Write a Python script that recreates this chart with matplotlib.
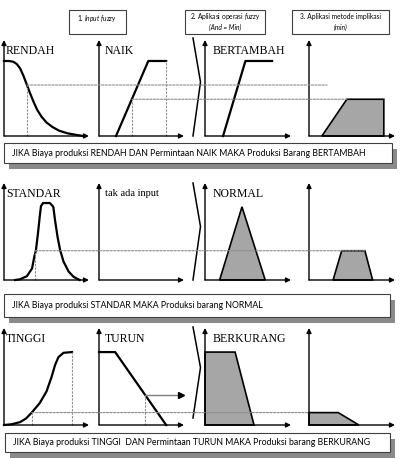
import matplotlib
matplotlib.use("Agg")
import matplotlib.pyplot as plt
from matplotlib.patches import Rectangle, ConnectionPatch

# ---- data ----------------------------------------------------------------
# x is in % of each panel's horizontal axis, mu is the membership degree (0..1)
rendah_x = [0, 6, 11, 15, 19, 23, 27, 31, 35, 39, 44, 50, 57, 65, 75, 85, 93]
rendah_mu = [1.0, 1.0, 0.99, 0.96, 0.9, 0.8, 0.68, 0.56, 0.45, 0.35, 0.26, 0.18,
             0.12, 0.07, 0.035, 0.015, 0.0]
naik_x = [20, 58, 79]
naik_mu = [0, 1, 1]
bertambah_x = [21, 47, 78]
bertambah_mu = [0, 1, 1]
out1_x = [15, 44, 87, 87]
out1_mu = [0, 0.49, 0.49, 0]

standar_x = [13, 19, 27, 33, 35.6, 37.6, 40, 42, 43.5, 46, 54, 58, 60, 63, 66,
             70, 76, 82, 89]
standar_mu = [0, 0.01, 0.05, 0.15, 0.30, 0.39, 0.61, 0.82, 0.96, 1.0, 1.0, 0.95,
              0.78, 0.56, 0.39, 0.24, 0.11, 0.04, 0]
normal_x = [17, 43, 70]
normal_mu = [0, 0.95, 0]
out2_x = [28, 38, 65, 74]
out2_mu = [0, 0.38, 0.38, 0]

tinggi_x = [0, 9, 19, 26, 32.6, 42, 50, 56, 60, 64, 70, 80]
tinggi_mu = [0, 0.01, 0.04, 0.09, 0.17, 0.30, 0.46, 0.66, 0.82, 0.93, 0.99, 1.0]
turun_x = [0, 19, 79]
turun_mu = [1, 1, 0]
berkurang_x = [0, 35, 57, 0]
berkurang_mu = [1, 1, 0, 0]
out3_x = [0, 0, 34, 58]
out3_mu = [0, 0.17, 0.17, 0]

# crisp inputs (x) and the degree they fire (mu)
biaya_in = [27, 37, 32.6]
biaya_mu = [0.68, 0.38, 0.17]
permintaan_in = [38.8, None, 54]
permintaan_mu = [0.49, None, 0.41]
# where the guide lines stop inside the last panel
guide_end_biaya = [21, 65, 0]
guide_end_permintaan = [44, None, None]

labels_input1 = ["RENDAH", "STANDAR", "TINGGI"]
labels_input2 = ["NAIK", "tak ada input", "TURUN"]
labels_output = ["BERTAMBAH", "NORMAL", "BERKURANG"]
rules = [
    "JIKA Biaya produksi RENDAH DAN Permintaan NAIK MAKA Produksi Barang BERTAMBAH",
    "JIKA Biaya produksi STANDAR MAKA Produksi barang NORMAL",
    "JIKA Biaya produksi TINGGI  DAN Permintaan TURUN MAKA Produksi barang BERKURANG",
]

# ---- layout (pixels) ------------------------------------------------------
W, H, DPI = 403, 459, 100
col_left = [4, 99, 205, 309]
col_right = [89, 184, 291, 395]
row_top = [40, 183, 328]
row_base = [136, 280, 425]
row_ymax = [1.28, 1.26, 1.33]
rule_boxes = [(4, 143, 392, 163), (4, 294, 390, 317), (5, 433, 390, 452)]
bracket_top = [38, 183, 327]
bracket_bot = [136, 280, 418]

GRAY = "#a6a6a6"
GUIDE = dict(color="#8c8c8c", lw=0.8, ls=(0, (2, 1.2)))
SERIF = "Liberation Serif"
SANS = "Lato"

plt.rcParams["mathtext.fontset"] = "custom"
plt.rcParams["mathtext.rm"] = SANS
plt.rcParams["mathtext.it"] = SANS + ":italic"

fig = plt.figure(figsize=(W / DPI, H / DPI), dpi=DPI)
ov = fig.add_axes([0, 0, 1, 1])
ov.set_xlim(0, W)
ov.set_ylim(H, 0)
ov.axis("off")
ov.patch.set_alpha(0)


def make_panel(col, row):
    x0, x1 = col_left[col], col_right[col]
    top, base = row_top[row], row_base[row]
    ax = fig.add_axes([x0 / W, 1 - base / H, (x1 - x0) / W, (base - top) / H])
    ax.set_xlim(0, 100)
    ax.set_ylim(0, row_ymax[row])
    ax.axis("off")
    ax.patch.set_alpha(0)
    arrow = dict(arrowstyle="-|>", color="black", lw=1.0, mutation_scale=7,
                 shrinkA=0, shrinkB=0)
    ax.annotate("", xy=(0, 1), xytext=(0, 0), xycoords="axes fraction", arrowprops=arrow)
    ax.annotate("", xy=(1, 0), xytext=(0, 0), xycoords="axes fraction", arrowprops=arrow)
    return ax


def vguide(ax, x, mu):
    ax.plot([x, x], [0, mu], clip_on=False, **GUIDE)


def hguide(ax_a, xa, ax_b, xb, mu):
    con = ConnectionPatch(xyA=(xa, mu), coordsA=ax_a.transData,
                          xyB=(xb, mu), coordsB=ax_b.transData, **GUIDE)
    con.set_zorder(3)
    fig.add_artist(con)


curve = dict(color="black", lw=1.6, clip_on=False, solid_joinstyle="round")
fill = dict(facecolor=GRAY, edgecolor="black", lw=1.2, clip_on=False)

axes = [[make_panel(c, r) for c in range(4)] for r in range(3)]

# row 1: RENDAH + NAIK -> BERTAMBAH
a = axes[0]
a[0].plot(rendah_x, rendah_mu, **curve)
a[1].plot(naik_x, naik_mu, **curve)
a[2].plot(bertambah_x, bertambah_mu, **curve)
a[3].fill(out1_x, out1_mu, **fill)
vguide(a[1], naik_x[-1], naik_mu[-1])

# row 2: STANDAR -> NORMAL
a = axes[1]
a[0].plot(standar_x, standar_mu, **curve)
a[2].fill(normal_x, normal_mu, **fill)
a[3].fill(out2_x, out2_mu, **fill)

# row 3: TINGGI + TURUN -> BERKURANG
a = axes[2]
a[0].plot(tinggi_x, tinggi_mu, **curve)
a[1].plot(turun_x, turun_mu, **curve)
a[2].fill(berkurang_x, berkurang_mu, **fill)
a[3].fill(out3_x, out3_mu, **fill)
vguide(a[0], tinggi_x[-1], tinggi_mu[-1])
a[1].plot([permintaan_in[2], 96], [permintaan_mu[2]] * 2, color="#7f7f7f", lw=1.0,
          clip_on=False)
a[1].plot([97], [permintaan_mu[2]], marker=">", color="black", ms=4, clip_on=False)

# input guides
for r in range(3):
    a = axes[r]
    vguide(a[0], biaya_in[r], biaya_mu[r])
    hguide(a[0], biaya_in[r], a[3], guide_end_biaya[r], biaya_mu[r])
    if permintaan_in[r] is not None:
        vguide(a[1], permintaan_in[r], permintaan_mu[r])
        if guide_end_permintaan[r] is not None:
            hguide(a[1], permintaan_in[r], a[3], guide_end_permintaan[r],
                   permintaan_mu[r])

# panel titles
for r in range(3):
    mid = row_top[r] + 11
    ov.text(6, mid, labels_input1[r], family=SERIF, fontsize=8.5, va="center")
    ov.text(105, mid, labels_input2[r], family=SERIF, fontsize=8.5 if r != 1 else 7.5,
            va="center")
    ov.text(213, mid, labels_output[r], family=SERIF, fontsize=8.5, va="center")

# bracket between the inputs and the rule output
for r in range(3):
    t, b = bracket_top[r], bracket_bot[r]
    ov.plot([193, 200.5, 193], [t, (t + b) / 2 - 5, b], color="black", lw=1.1)

# rule boxes with a drop shadow
for (x0, y0, x1, y1), txt in zip(rule_boxes, rules):
    ov.add_patch(Rectangle((x0 + 5, y0 + 5.5), x1 - x0, y1 - y0, facecolor="#8a8a8a",
                           edgecolor="none"))
    ov.add_patch(Rectangle((x0, y0), x1 - x0, y1 - y0, facecolor="white",
                           edgecolor="#404040", lw=0.8))
    ov.text(x0 + 8, (y0 + y1) / 2, txt, family=SANS, fontsize=6.35, va="center")

# step headers
HFS = 4.8
headers = [(69, 126), (185, 265), (292, 389)]
for x0, x1 in headers:
    ov.add_patch(Rectangle((x0, 10), x1 - x0, 24, facecolor="white",
                           edgecolor="#404040", lw=0.8))
hx = [(x0 + x1) / 2 for x0, x1 in headers]
ov.text(hx[0], 18, r"1. $\mathit{Input\ fuzzy}$", fontsize=HFS, family=SANS,
        ha="center", va="center")
ov.text(hx[1], 17, r"2. Aplikasi operasi $\mathit{fuzzy}$", fontsize=HFS,
        family=SANS, ha="center", va="center")
ov.text(hx[1], 27, "(And = Min)", fontsize=HFS, family=SANS, style="italic",
        ha="center", va="center")
ov.text(hx[2], 17, "3. Aplikasi metode implikasi", fontsize=HFS, family=SANS,
        ha="center", va="center")
ov.text(hx[2], 27, "(min)", fontsize=HFS, family=SANS, style="italic",
        ha="center", va="center")

fig.savefig("out.png", dpi=DPI, facecolor="white")
plt.close(fig)
